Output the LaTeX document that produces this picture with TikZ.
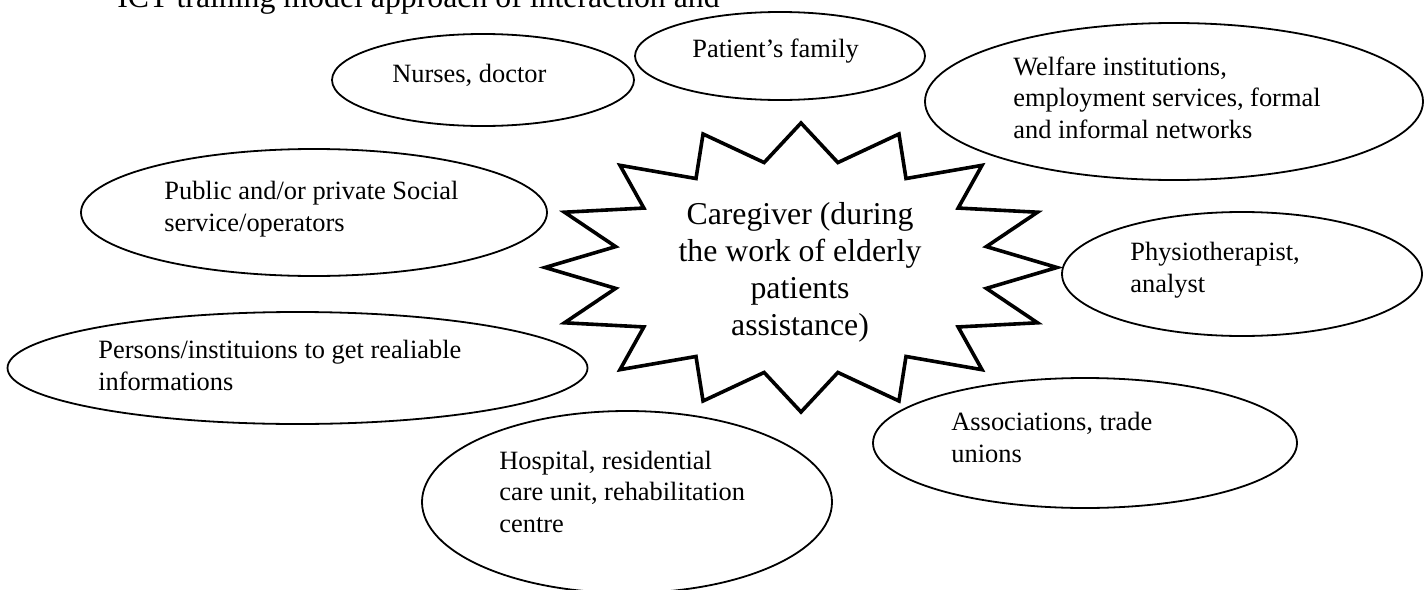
\documentclass[tikz,border=0pt]{standalone}
\usepackage{fontspec}
\setmainfont{Liberation Serif}
\usetikzlibrary{shapes.geometric}

\begin{document}
\begin{tikzpicture}[x=0.5pt, y=-0.5pt,
  bubble/.style={draw, ellipse, line width=0.9pt, inner sep=0pt, outer sep=0pt},
  bubbletext/.style={anchor=base west, align=left, inner sep=0pt, font=\fontsize{13.2}{15.75}\selectfont},
  bigtext/.style={inner sep=0pt, font=\fontsize{15.9}{18.35}\selectfont},
  starline/.style={line width=1.8pt, line join=miter}]
\useasboundingbox (0,0) rectangle (1424,589);

\node[bigtext, anchor=base west] (title) at (117,7) {ICT training model approach of interaction and};

% the star in the middle
\begin{scope}[shift={(801,267.5)}]
\draw[starline] (256,0)
  \foreach \k [evaluate=\k as \rx using {isodd(\k) ? 189 : 256},
               evaluate=\k as \ry using {isodd(\k) ? 107 : 144.5}] in {1,...,31}
  { -- ({\rx*cos(\k*11.25)},{\ry*sin(\k*11.25)}) } -- cycle;
\end{scope}
\node[bigtext, anchor=base, align=center] (caregiver) at (800,335) {Caregiver (during\\the work of elderly\\patients\\assistance)};

% bubbles round the caregiver
\node[bubble, minimum width=151pt, minimum height=46pt] (nurses) at (483,80) {};
\node[bubble, minimum width=145pt, minimum height=44pt] (family) at (780,56) {};
\node[bubble, minimum width=249pt, minimum height=78.5pt] (welfare) at (1174,101.5) {};
\node[bubble, minimum width=233pt, minimum height=63.5pt] (social) at (314,212.5) {};
\node[bubble, minimum width=180pt, minimum height=62pt] (physio) at (1242,274) {};
\node[bubble, minimum width=290pt, minimum height=56pt] (persons) at (297.5,368) {};
\node[bubble, minimum width=212pt, minimum height=65pt] (associations) at (1085,443) {};
\node[bubble, minimum width=205pt, minimum height=91pt] (hospital) at (627,502) {};

% texts, placed by the baseline of their last line
\node[bubbletext] (nursestext) at (392,82) {Nurses, doctor};
\node[bubbletext] (familytext) at (692,57) {Patient’s family};
\node[bubbletext] (welfaretext) at (1013,138) {Welfare institutions,\\employment services, formal\\and informal networks};
\node[bubbletext] (socialtext) at (164,231) {Public and/or private Social\\service/operators};
\node[bubbletext] (physiotext) at (1130,292) {Physiotherapist,\\analyst};
\node[bubbletext] (personstext) at (98,390) {Persons/instituions to get realiable\\informations};
\node[bubbletext] (associationstext) at (951,462) {Associations, trade\\unions};
\node[bubbletext] (hospitaltext) at (499,532) {Hospital, residential\\care unit, rehabilitation\\centre};
\end{tikzpicture}
\end{document}
